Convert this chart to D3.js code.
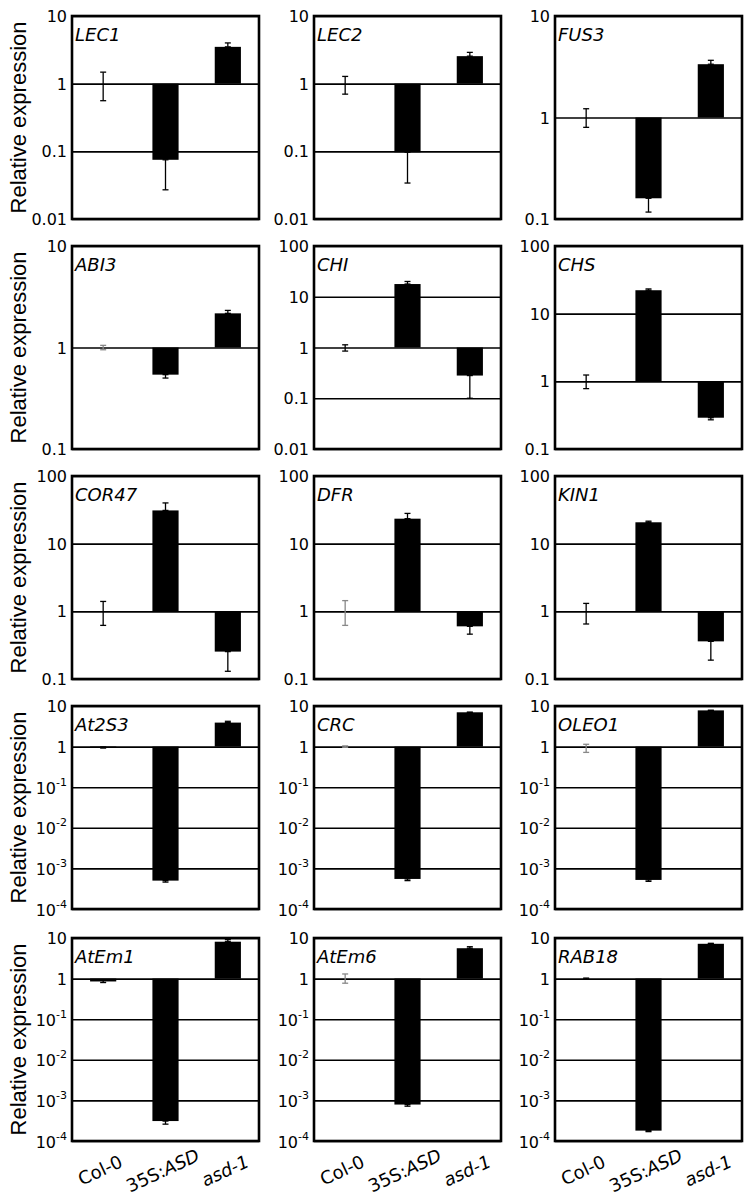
<!DOCTYPE html>
<html><head><meta charset="utf-8">
<script src="https://cdn.jsdelivr.net/npm/d3@7"></script>
<style>body{margin:0;background:#fff}</style></head><body>
<svg id="c" width="756" height="1198"></svg>
<script>
const genes = ["LEC1","LEC2","FUS3","ABI3","CHI","CHS","COR47","DFR","KIN1","At2S3","CRC","OLEO1","AtEm1","AtEm6","RAB18"];
const categories = ["Col-0","35S:ASD","asd-1"];
const yMin = [0.01,0.01,0.1,0.1,0.01,0.1,0.1,0.1,0.1,1e-4,1e-4,1e-4,1e-4,1e-4,1e-4];
const yMax = [10,10,10,10,100,100,100,100,100,10,10,10,10,10,10];
const expression = [
  [1,0.075,3.5],[1,0.097,2.55],[1,0.16,3.35],
  [1,0.54,2.17],[1,17.8,0.28],[1,22.2,0.29],
  [1,31,0.254],[1,23.4,0.6],[1,20.7,0.36],
  [0.95,5.0e-4,3.9],[1,5.5e-4,7.0],[1,5.2e-4,7.8],
  [0.85,3.1e-4,8.1],[1,7.9e-4,5.6],[1,1.8e-4,7.2]
];
const errUpper = [
  [1.48,0.075,4.0],[1.28,0.097,2.9],[1.22,0.16,3.66],
  [1.05,0.54,2.32],[1.13,20,0.28],[1.24,23.2,0.29],
  [1.4,40,0.254],[1.44,28,0.6],[1.31,21.5,0.36],
  [0.98,5.0e-4,4.2],[1.04,5.5e-4,7.0],[1.14,5.2e-4,7.8],
  [0.9,3.1e-4,9.1],[1.3,7.9e-4,6.1],[1.03,1.8e-4,7.4]
];
const errLower = [
  [0.56,0.027,3.5],[0.70,0.034,2.55],[0.8,0.117,3.35],
  [0.95,0.5,2.17],[0.85,17.8,0.1],[0.78,22.2,0.27],
  [0.62,31,0.13],[0.62,23.4,0.46],[0.65,20.7,0.19],
  [0.92,4.6e-4,3.9],[0.96,5.0e-4,7.0],[0.72,4.8e-4,7.8],
  [0.8,2.6e-4,8.1],[0.77,7.2e-4,5.6],[0.97,1.7e-4,7.2]
];
const yTitle = "Relative expression";

// layout (styles)
const colLeft = [72, 314, 555];
const rowTop = [16, 246, 476, 706, 938];
const W = 187, H = 203;
const grayErr = new Set(["ABI3","DFR","OLEO1","AtEm6","CRC"]);

const svg = d3.select("#c");
const tickFont = "DejaVu Sans, Verdana, sans-serif";

genes.forEach((g, i) => {
  const r = Math.floor(i / 3), c = i % 3;
  const gx = colLeft[c], gy = rowTop[r];
  const p = svg.append("g").attr("transform", `translate(${gx},${gy})`);
  const y = d3.scaleLog().domain([yMin[i], yMax[i]]).range([H, 0]);
  const x = d3.scaleBand().domain(categories).range([0, W]).paddingInner(0.58).paddingOuter(0.29);
  const decades = [];
  for (let e = Math.round(Math.log10(yMin[i])); e <= Math.round(Math.log10(yMax[i])); e++) decades.push(Math.pow(10, e));
  const power = yMin[i] < 0.001;

  const ax = p.append("g").call(d3.axisLeft(y).tickValues(decades).tickSize(-W).tickPadding(5).tickFormat(""));
  ax.select(".domain").remove();
  ax.selectAll(".tick line").attr("stroke", "#000").attr("stroke-width", 1.6);
  ax.selectAll(".tick").each(function(v) {
    const t = d3.select(this).select("text")
      .attr("font-family", tickFont).attr("font-size", 16).attr("fill", "#000")
      .attr("dy", null).attr("dominant-baseline", "central").attr("x", -5);
    const e = Math.round(Math.log10(v));
    if (power && e < 0) {
      t.append("tspan").text("10");
      t.append("tspan").attr("font-size", 11).attr("dy", -6).text(String(e));
    } else if (power) {
      t.text(d3.format("~g")(v));
    } else {
      t.text(e < 0 ? v.toFixed(-e) : String(Math.round(v)));
    }
  });

  // error bars
  const eg = p.append("g");
  categories.forEach((cat, k) => {
    const cx = x(cat) + x.bandwidth() / 2;
    const up = errUpper[i][k], lo = errLower[i][k];
    const col = (k === 0 && grayErr.has(g)) ? "#888" : "#000";
    eg.append("line").attr("x1", cx).attr("x2", cx).attr("y1", y(up)).attr("y2", y(lo))
      .attr("stroke", col).attr("stroke-width", 1.3);
    [up, lo].forEach(v => {
      eg.append("line").attr("x1", cx - 3).attr("x2", cx + 3).attr("y1", y(v)).attr("y2", y(v))
        .attr("stroke", col).attr("stroke-width", 1.3);
    });
  });

  // bars
  p.append("g").selectAll("rect").data(categories).join("rect")
    .attr("x", d => x(d))
    .attr("width", x.bandwidth())
    .attr("y", (d, k) => y(Math.max(expression[i][k], 1)))
    .attr("height", (d, k) => Math.abs(y(expression[i][k]) - y(1)))
    .attr("fill", "#000");

  // frame
  p.append("rect").attr("x", 0).attr("y", 0).attr("width", W).attr("height", H)
    .attr("fill", "none").attr("stroke", "#000").attr("stroke-width", 2.6);

  // gene label
  p.append("text").attr("x", 3).attr("y", 25)
    .attr("font-family", tickFont).attr("font-style", "italic").attr("font-size", 18)
    .text(g);

  // y title
  if (c === 0) {
    svg.append("text")
      .attr("transform", `translate(26,${gy + H / 2}) rotate(-90)`)
      .attr("text-anchor", "middle")
      .attr("font-family", "Liberation Sans, Arial, sans-serif").attr("font-size", 22)
      .text(yTitle);
  }

  // x labels
  if (r === 4) {
    categories.forEach(cat => {
      const cx = x(cat) + x.bandwidth() / 2 - 3;
      const t = p.append("text")
        .attr("transform", `translate(${cx},${H + 29}) rotate(-25)`)
        .attr("text-anchor", "middle").attr("dominant-baseline", "central")
        .attr("font-family", tickFont).attr("font-size", 18);
      if (cat === "35S:ASD") {
        t.append("tspan").text("35S:");
        t.append("tspan").attr("font-style", "italic").text("ASD");
      } else if (cat === "asd-1") {
        t.append("tspan").attr("font-style", "italic").text("asd-1");
      } else {
        t.text(cat);
      }
    });
  }
});
</script>
</body></html>
